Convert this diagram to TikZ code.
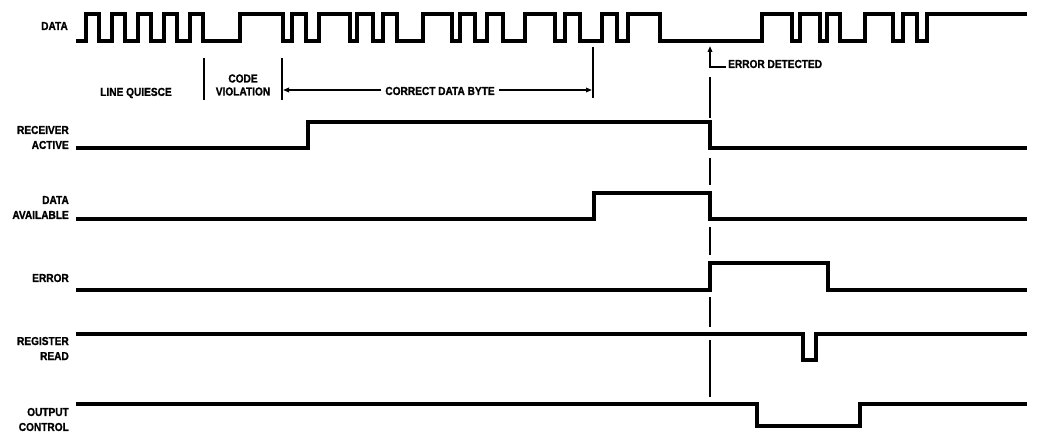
\documentclass[tikz,border=0pt]{standalone}
\usepackage{fontspec}
\setmainfont{Liberation Sans}[FakeStretch=0.88,BoldFeatures={FakeBold=1.2}]
\usetikzlibrary{arrows.meta}
\begin{document}
\begin{tikzpicture}[x=1pt,y=-1pt,
  sig/.style={line width=3.1pt,line join=miter,line cap=butt},
  anno/.style={line width=1.6pt},
  lbl/.style={inner sep=0pt,font=\fontsize{11.5}{15}\selectfont\bfseries,align=right,anchor=east},
  txt/.style={inner sep=0pt,font=\fontsize{11.5}{13}\selectfont\bfseries,align=center},
  tip/.style={-{Triangle[length=6pt,width=4.5pt]}}]
\useasboundingbox (0,0) rectangle (1038,433);
% labels
\node[lbl] (lData) at (68,26) {DATA};
\node[lbl] (lRA) at (69,137.5) {RECEIVER\\ACTIVE};
\node[lbl] (lDA) at (69,207.5) {DATA\\AVAILABLE};
\node[lbl] (lErr) at (69,278) {ERROR};
\node[lbl] (lRR) at (69,348.5) {REGISTER\\READ};
\node[lbl] (lOC) at (69,419.5) {OUTPUT\\CONTROL};
% DATA waveform
\draw[sig] (76,41) -- (86,41) |- (99,14) |- (112,41) |- (125,14) |- (138,41) |- (151,14) |- (164,41) |- (177,14) |- (190,41) |- (203,14)
  |- (240,41) |- (283,14) |- (292,41) |- (306,14) |- (319,41) |- (350,14) |- (357,41) |- (373,14) |- (383,41) |- (397,14)
  |- (423,41) |- (452,14) |- (460,41) |- (475,14) |- (487,41) |- (503,14) |- (525,41) |- (555,14) |- (565,41) |- (580,14)
  |- (602,41) |- (617,14) |- (628,41) |- (660,14) |- (762,41) |- (792,14) |- (800,41) |- (820,14) |- (827,41) |- (840,14)
  |- (865,41) |- (893,14) |- (903,41) |- (917,14) |- (927,41) |- (1027,14);
% RECEIVER ACTIVE
\draw[sig] (76,148) -- (308,148) -- (308,122) -- (710,122) -- (710,148) -- (1027,148);
% DATA AVAILABLE
\draw[sig] (76,219) -- (594,219) -- (594,193) -- (710,193) -- (710,219) -- (1027,219);
% ERROR
\draw[sig] (76,290) -- (710,290) -- (710,263) -- (828,263) -- (828,290) -- (1027,290);
% REGISTER READ
\draw[sig] (76,334) -- (803,334) -- (803,360) -- (816,360) -- (816,334) -- (1027,334);
% OUTPUT CONTROL
\draw[sig] (76,404) -- (757,404) -- (757,426) -- (860,426) -- (860,404) -- (1027,404);
% annotations
\node[txt] (quiesce) at (136,93) {LINE QUIESCE};
\node[txt] (codev) at (243,85) {CODE\\VIOLATION};
\node[txt] (cdb) at (440,91) {CORRECT DATA BYTE};
\coordinate (v1t) at (204,58); \coordinate (v1b) at (204,100);
\coordinate (v2t) at (282,58); \coordinate (v2b) at (282,100);
\coordinate (v3t) at (593,47); \coordinate (v3b) at (593,98);
\draw[anno] (v1t) -- (v1b);
\draw[anno] (v2t) -- (v2b);
\draw[anno] (v3t) -- (v3b);
\coordinate (aL) at (283,90); \coordinate (aR) at (592,90);
\draw[anno,tip] (cdb.west) ++(-4,-1) -- (aL);
\draw[anno,tip] (cdb.east) ++(4,-1) -- (aR);
% error detected
\node[txt,anchor=west] (errdet) at (728,64) {ERROR DETECTED};
\coordinate (etip) at (710,46);
\draw[anno,tip] (errdet.west) ++(-2,3) -| (etip);
\draw[anno] (710,77) -- (710,118);
\draw[anno] (710,158) -- (710,185);
\draw[anno] (710,227) -- (710,255);
\draw[anno] (710,297) -- (710,327);
\draw[anno] (710,340) -- (710,397);
\end{tikzpicture}
\end{document}
